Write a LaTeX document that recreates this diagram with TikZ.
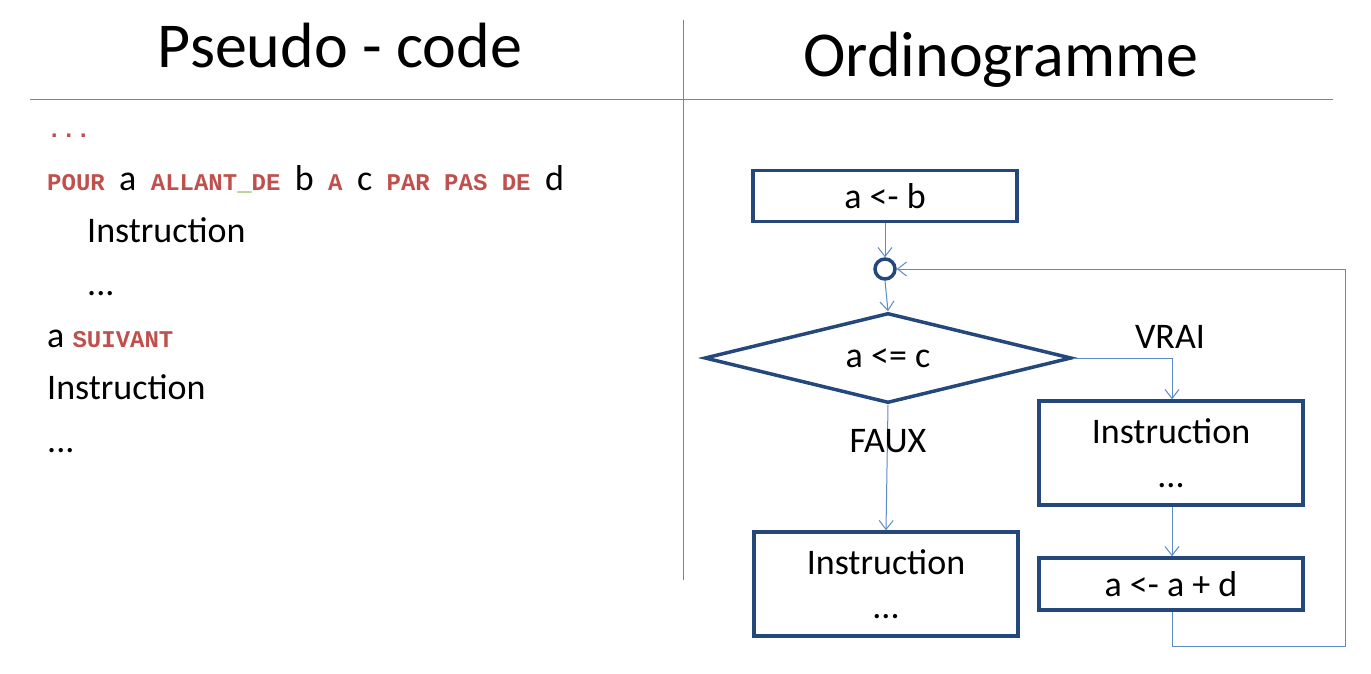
\documentclass[tikz,border=0pt]{standalone}
\usepackage{fontspec}
\setmainfont{Carlito}
\newfontfamily\kwfont{Liberation Mono}
\usetikzlibrary{arrows.meta,shapes.geometric}
\definecolor{kwred}{RGB}{192,80,77}
\definecolor{boxblue}{RGB}{36,72,124}
\definecolor{lineblue}{RGB}{90,138,200}
\definecolor{usgreen}{RGB}{140,180,80}
\newcommand{\kw}[1]{{\kwfont\bfseries\fontsize{24}{26}\selectfont\textcolor{kwred}{#1}}}
\newcommand{\ksp}{{\kwfont\fontsize{24}{26}\selectfont\ }}
\tikzset{
  title/.style={font=\fontsize{64}{70}\selectfont, anchor=base, inner sep=0pt},
  codeline/.style={font=\fontsize{36}{40}\selectfont, anchor=base west, inner sep=0pt},
  procbox/.style={draw=boxblue, line width=3.5pt, minimum width=264pt, inner sep=0pt, font=\fontsize{36}{40}\selectfont},
  flow/.style={draw=lineblue, line width=1pt, -{Straight Barb[length=9pt,width=14pt,line width=1pt]}},
  lbl/.style={font=\fontsize{36}{40}\selectfont, inner sep=0pt},
}
\begin{document}
\begin{tikzpicture}[x=1pt,y=-1pt]
\useasboundingbox (0,0) rectangle (1371,674);
% titles and rules
\node[title] (t1) at (340,68) {Pseudo - code};
\node[title] (t2) at (1001,77) {Ordinogramme};
\coordinate (hl) at (30,100); \coordinate (hr) at (1333,100);
\coordinate (vt) at (683,20); \coordinate (vb) at (683,580);
\draw[lineblue, line width=1pt] (hl) -- (hr);
\draw[lineblue, line width=0.8pt] (vt) -- (vb);
% pseudo-code
\node[codeline] (c0) at (47,138) {\kw{...}};
\node[codeline] (c1) at (47,190) {\kw{POUR}\ksp a\ksp\kw{ALLANT\textcolor{usgreen}{\_}DE}\ksp b\ksp\kw{A}\ksp c\ksp\kw{PAR PAS DE}\ksp d};
\node[codeline] (c2) at (87,242) {Instruction};
\node[codeline] (c3) at (87,295) {...};
\node[codeline] (c4) at (47,347) {a \kw{SUIVANT}};
\node[codeline] (c5) at (47,399) {Instruction};
\node[codeline] (c6) at (47,452) {...};
% flowchart
\node[procbox, minimum height=51pt] (init) at (885,196) {a <- b};
\node[circle, draw=boxblue, line width=3.5pt, minimum size=20pt, inner sep=0pt] (join) at (885,269) {};
\node[diamond, draw=boxblue, line width=3.5pt, aspect=4.08, minimum width=367pt, minimum height=90pt, inner sep=0pt, font=\fontsize{36}{40}\selectfont] (test) at (888,358) {a <= c};
\node[procbox, minimum height=104pt, align=center] (body) at (1171,453) {Instruction\\[4pt]...};
\node[procbox, minimum height=52pt] (incr) at (1171,584) {a <- a + d};
\node[procbox, minimum height=104pt, align=center] (after) at (886,584) {Instruction\\[4pt]...};
\coordinate (vr) at (1172,358);
\coordinate (lb) at (1172,646);
\coordinate (lr) at (1345,646);
\coordinate (lt) at (1345,269);
\draw[flow] (init.south) -- (join.north);
\draw[flow] (join.south) -- (test.north);
\draw[flow] (test.east) -- (vr) -- (body.north -| vr);
\draw[flow] (body.south -| vr) -- (incr.north -| vr);
\draw[flow] (incr.south -| lb) -- (lb) -- (lr) -- (lt) -- (join.east);
\draw[flow] (test.south) -- (after.north);
\node[lbl] (vrai) at (1170,337) {VRAI};
\node[lbl] (faux) at (888,441) {FAUX};
\end{tikzpicture}
\end{document}
